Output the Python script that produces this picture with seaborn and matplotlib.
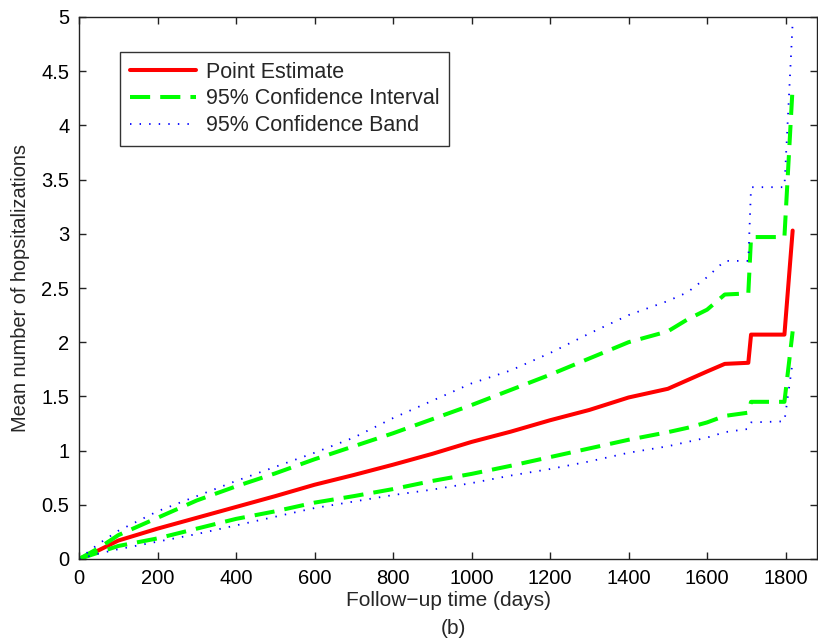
import matplotlib
matplotlib.use("Agg")
import matplotlib.pyplot as plt
import seaborn as sns
import pandas as pd

days = [0, 50, 100, 200, 300, 400, 500, 600, 700, 800, 900, 1000, 1100, 1200,
        1300, 1400, 1500, 1550, 1600, 1645, 1705, 1712, 1797, 1818]
point_est = [0, 0.08, 0.17, 0.28, 0.38, 0.48, 0.58, 0.685, 0.775, 0.87, 0.97, 1.08,
             1.175, 1.28, 1.375, 1.49, 1.57, 1.65, 1.73, 1.80, 1.81, 2.07, 2.07, 3.03]
ci_upper = [0, 0.10, 0.22, 0.38, 0.54, 0.67, 0.79, 0.92, 1.04, 1.16, 1.29, 1.42,
            1.56, 1.70, 1.85, 2.0, 2.10, 2.21, 2.30, 2.44, 2.45, 2.97, 2.97, 4.36]
ci_lower = [0, 0.06, 0.12, 0.19, 0.28, 0.37, 0.44, 0.52, 0.58, 0.645, 0.72, 0.785,
            0.86, 0.94, 1.02, 1.10, 1.17, 1.21, 1.26, 1.32, 1.35, 1.45, 1.45, 2.10]
cb_upper = [0, 0.14, 0.26, 0.44, 0.58, 0.72, 0.85, 0.98, 1.12, 1.30, 1.46, 1.62,
            1.74, 1.90, 2.08, 2.25, 2.38, 2.46, 2.60, 2.75, 2.75, 3.43, 3.43, 4.95]
cb_lower = [0, 0.05, 0.09, 0.16, 0.23, 0.31, 0.39, 0.47, 0.53, 0.59, 0.64, 0.70,
            0.77, 0.83, 0.90, 0.98, 1.04, 1.08, 1.12, 1.17, 1.20, 1.26, 1.27, 1.82]

x_ticks = [0, 200, 400, 600, 800, 1000, 1200, 1400, 1600, 1800]
y_ticks = [0, 0.5, 1, 1.5, 2, 2.5, 3, 3.5, 4, 4.5, 5]
y_ticklabels = ["0", "0.5", "1", "1.5", "2", "2.5", "3", "3.5", "4", "4.5", "5"]

df = pd.DataFrame({"days": days, "pe": point_est, "ciu": ci_upper, "cil": ci_lower,
                   "cbu": cb_upper, "cbl": cb_lower})

sns.set_style("ticks")
plt.rcParams["font.family"] = ["Liberation Sans", "DejaVu Sans"]

fig = plt.figure(figsize=(8.18, 6.42), dpi=100)
ax = fig.add_axes([79 / 818, 1 - 559 / 642, (817 - 79) / 818, (559 - 17) / 642])

red = "#ff0000"
green = "#00ff00"
blue = "#0000ff"

sns.lineplot(data=df, x="days", y="pe", ax=ax, color=red, linewidth=2.9,
             estimator=None, label="Point Estimate")
sns.lineplot(data=df, x="days", y="ciu", ax=ax, color=green, linewidth=2.9,
             estimator=None, label="95% Confidence Interval")
sns.lineplot(data=df, x="days", y="cil", ax=ax, color=green, linewidth=2.9,
             estimator=None)
sns.lineplot(data=df, x="days", y="cbu", ax=ax, color=blue, linewidth=1.3,
             estimator=None, label="95% Confidence Band")
sns.lineplot(data=df, x="days", y="cbl", ax=ax, color=blue, linewidth=1.3,
             estimator=None)

lines = ax.get_lines()
for ln in lines[1:3]:
    ln.set_linestyle((0, (5, 2.5)))
for ln in lines[3:5]:
    ln.set_linestyle((0, (0.8, 4.5)))

ax.set_xlim(0, 1880)
ax.set_ylim(0, 5)
ax.set_xticks(x_ticks)
ax.set_xticklabels([str(v) for v in x_ticks])
ax.set_yticks(y_ticks)
ax.set_yticklabels(y_ticklabels)
for s in ax.spines.values():
    s.set_visible(True)
    s.set_linewidth(1.0)
    s.set_color("#222222")
ax.tick_params(direction="in", length=5, width=1, top=True, right=True,
               labelsize=14.5, colors="#222222", labelcolor="black", pad=7)

ax.set_xlabel("Follow\u2212up time (days)", fontsize=15, labelpad=2)
ax.set_ylabel("Mean number of hopsitalizations", fontsize=14.4, labelpad=8)
fig.text(453 / 818, 1 - 628 / 642, "(b)", ha="center", va="center", fontsize=15)

handles, labels = ax.get_legend_handles_labels()
leg = ax.legend(handles, labels, loc="upper left",
                fontsize=15.5, frameon=True, fancybox=False, edgecolor="black",
                handlelength=3.1, handletextpad=0.45, borderpad=0.45, labelspacing=0.27,
                borderaxespad=0)
leg.set_bbox_to_anchor(((120 - 79) / (817 - 79), (559 - 52) / (559 - 17)), transform=ax.transAxes)
leg.get_frame().set_linewidth(1.0)

fig.savefig("out.png", dpi=100)
